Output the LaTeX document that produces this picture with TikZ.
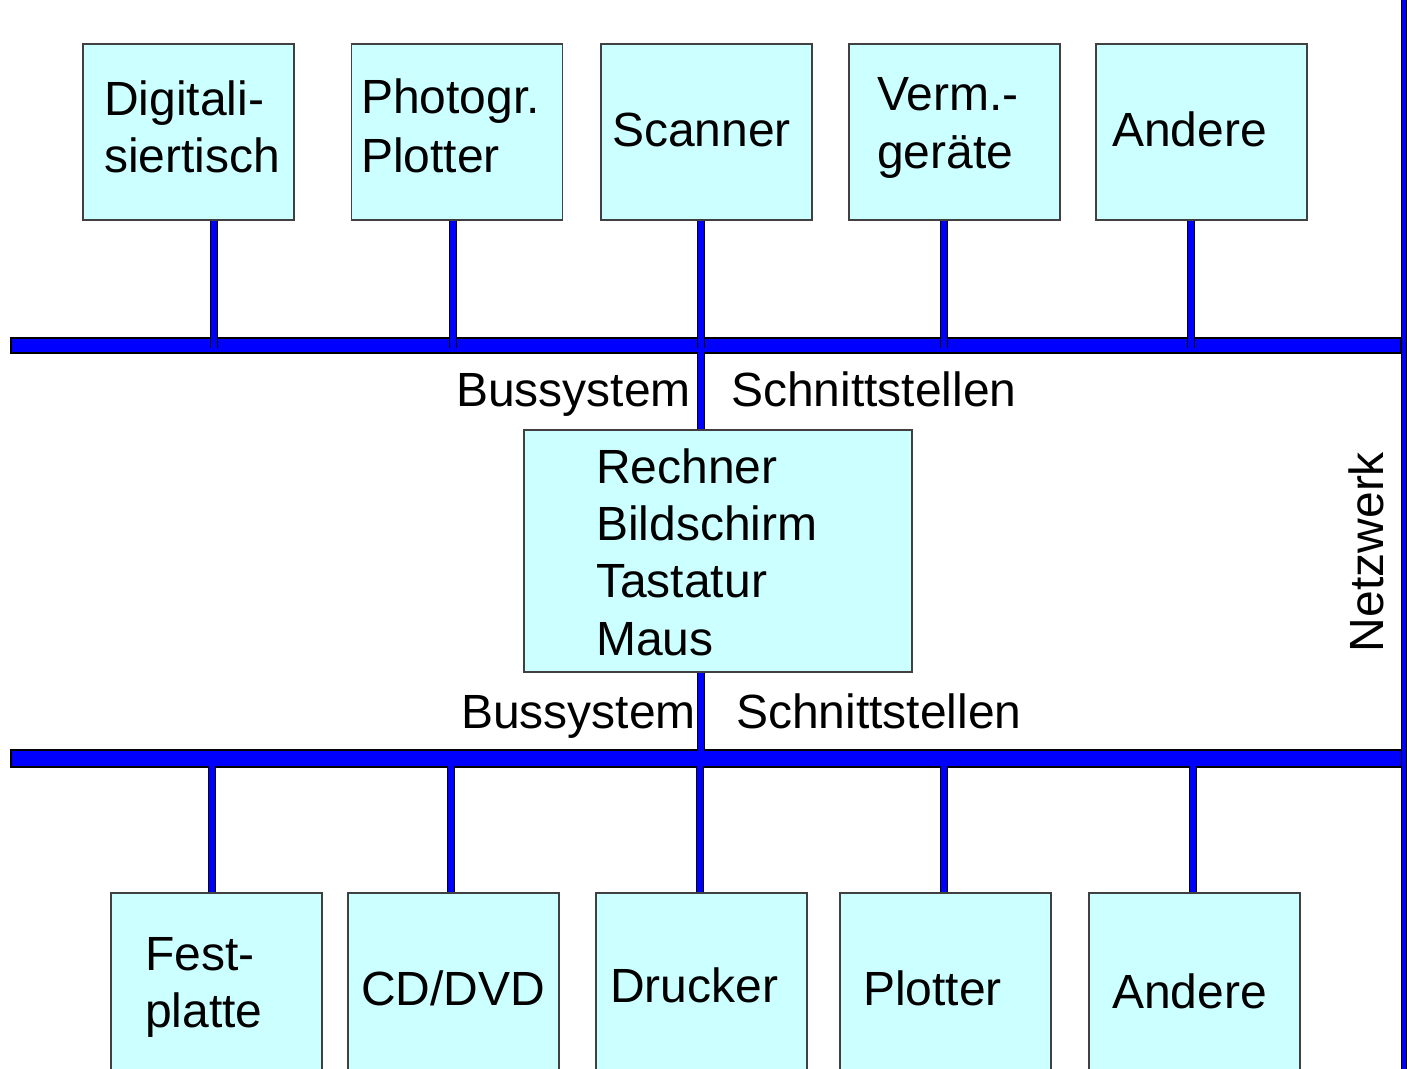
\documentclass[tikz,border=0pt]{standalone}
\usepackage{fontspec}
\setmainfont{Liberation Sans}
\definecolor{boxcyan}{HTML}{CCFFFF}
\definecolor{busblue}{HTML}{0000FF}
\begin{document}
\begin{tikzpicture}[x=1pt,y=-1pt,
  font=\fontsize{48}{57}\selectfont,
  devbox/.style={rectangle, draw=black!75, fill=boxcyan, line width=1.2pt, inner sep=0pt},
  busbar/.style={rectangle, draw=black, fill=busblue, line width=1.2pt, inner sep=0pt},
  stub/.style={draw=black, double=busblue, double distance=5.5pt, line width=0.9pt},
  lbl/.style={inner sep=0pt, anchor=base west}]
\path[use as bounding box, clip] (0,0) rectangle (1407,1068);

% upper device boxes
\node[devbox, minimum width=211pt, minimum height=176pt] (d1) at (188.5,132) {};
\node[devbox, minimum width=211pt, minimum height=176pt] (d2) at (457,132) {};
\node[devbox, minimum width=211pt, minimum height=176pt] (d3) at (706.5,132) {};
\node[devbox, minimum width=211pt, minimum height=176pt] (d4) at (954.5,132) {};
\node[devbox, minimum width=211pt, minimum height=176pt] (d5) at (1201.5,132) {};

\node[lbl] (t1a) at (104,115) {Digitali-};
\node[lbl] (t1b) at (104,172) {siertisch};
\node[lbl] (t2a) at (361,113) {Photogr.};
\node[lbl] (t2b) at (361,172) {Plotter};
\node[lbl] (t3) at (612,146) {Scanner};
\node[lbl] (t4a) at (877,110) {Verm.-};
\node[lbl] (t4b) at (877,168) {geräte};
\node[lbl] (t5) at (1112,146) {Andere};

% bus lines and network
\node[busbar, minimum width=1390pt, minimum height=15pt] (topbus) at (706,345.5) {};
\node[busbar, minimum width=1393pt, minimum height=17pt] (lowbus) at (707.5,758.5) {};
\node[busbar, minimum width=5pt, minimum height=1090pt] (net) at (1404,534) {};

% central computer
\node[devbox, minimum width=388pt, minimum height=242pt] (rech) at (718,551) {};
\node[lbl] (r1) at (596,483) {Rechner};
\node[lbl] (r2) at (596,540) {Bildschirm};
\node[lbl] (r3) at (596,597) {Tastatur};
\node[lbl] (r4) at (596,655) {Maus};

\node[lbl] (bs1) at (456,406) {Bussystem};
\node[lbl] (sc1) at (731,406) {Schnittstellen};
\node[lbl] (bs2) at (461,728) {Bussystem};
\node[lbl] (sc2) at (736,728) {Schnittstellen};

\node[inner sep=0pt, rotate=90] (netz) at (1366,552) {Netzwerk};

% lower device boxes
\node[devbox, minimum width=211pt, minimum height=187pt] (b1) at (216.5,986.5) {};
\node[devbox, minimum width=211pt, minimum height=187pt] (b2) at (453.5,986.5) {};
\node[devbox, minimum width=211pt, minimum height=187pt] (b3) at (701.5,986.5) {};
\node[devbox, minimum width=211pt, minimum height=187pt] (b4) at (945.5,986.5) {};
\node[devbox, minimum width=211pt, minimum height=187pt] (b5) at (1194.5,986.5) {};

\node[lbl] (u1a) at (145,970) {Fest-};
\node[lbl] (u1b) at (145,1027) {platte};
\node[lbl] (u2) at (361,1005) {CD/DVD};
\node[lbl] (u3) at (610,1002) {Drucker};
\node[lbl] (u4) at (863,1005) {Plotter};
\node[lbl] (u5) at (1112,1008) {Andere};

% stubs to the upper bus
\draw[stub] ([xshift=25.5pt]d1.south) -- +(0,127);
\draw[stub] ([xshift=-4pt]d2.south) -- +(0,127);
\draw[stub] ([xshift=-5.5pt]d3.south) -- +(0,127);
\draw[stub] ([xshift=-10.5pt]d4.south) -- +(0,127);
\draw[stub] ([xshift=-10.5pt]d5.south) -- +(0,127);

% computer to both buses
\draw[stub] ([xshift=-17pt]rech.north) -- +(0,-77);
\draw[stub] ([xshift=-17pt]rech.south) -- +(0,78);

% stubs from the lower bus
\draw[stub] ([xshift=-4.5pt]b1.north) -- +(0,-126);
\draw[stub] ([xshift=-2.5pt]b2.north) -- +(0,-126);
\draw[stub] ([xshift=-1.5pt]b3.north) -- +(0,-126);
\draw[stub] ([xshift=-1.5pt]b4.north) -- +(0,-126);
\draw[stub] ([xshift=-1.5pt]b5.north) -- +(0,-126);
\end{tikzpicture}
\end{document}
